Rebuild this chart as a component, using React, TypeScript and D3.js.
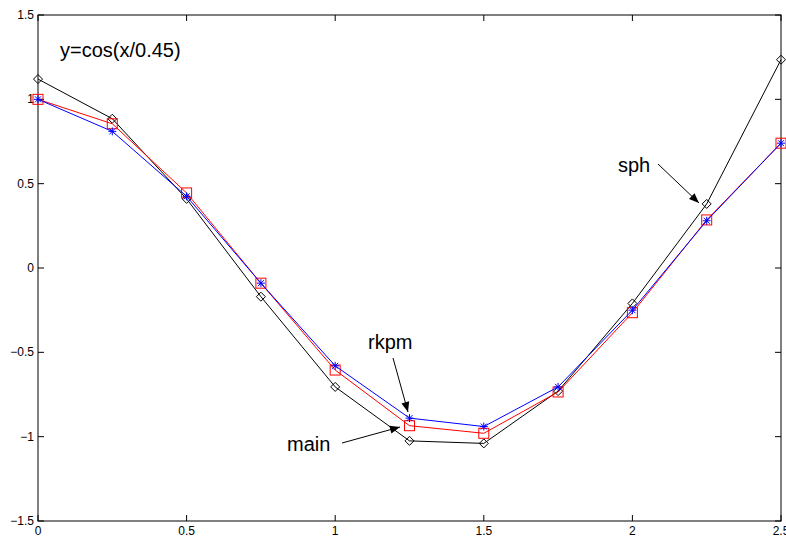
import React, { useEffect, useRef } from 'react';
import * as d3 from 'd3';

const xs = [0, 0.25, 0.5, 0.75, 1, 1.25, 1.5, 1.75, 2, 2.25, 2.5];
const sph = [1.12, 0.885, 0.41, -0.17, -0.705, -1.025, -1.04, -0.73, -0.21, 0.38, 1.235];
const rkpm = [1.0, 0.81, 0.425, -0.09, -0.58, -0.89, -0.94, -0.705, -0.25, 0.28, 0.74];
const main = [1.0, 0.855, 0.445, -0.09, -0.605, -0.935, -0.98, -0.735, -0.265, 0.285, 0.74];
const xTicks = [0, 0.5, 1, 1.5, 2, 2.5];
const yTicks = [-1.5, -1, -0.5, 0, 0.5, 1, 1.5];

const App = () => {
  const svgRef = useRef<SVGSVGElement>(null);

  useEffect(() => {
    const svg = d3.select(svgRef.current);
    svg.selectAll('*').remove();

    const w = 786, h = 541;
    const m = { left: 38, right: 5, top: 15, bottom: 20 };
    const x = d3.scaleLinear().domain([0, 2.5]).range([m.left, w - m.right]);
    const y = d3.scaleLinear().domain([-1.5, 1.5]).range([h - m.bottom, m.top]);
    const font = 'Liberation Sans, Arial, sans-serif';

    svg.append('rect').attr('width', w).attr('height', h).attr('fill', '#fff');

    // box
    svg.append('rect')
      .attr('x', x(0)).attr('y', y(1.5))
      .attr('width', x(2.5) - x(0)).attr('height', y(-1.5) - y(1.5))
      .attr('fill', 'none').attr('stroke', '#000').attr('stroke-width', 1);

    const tl = 6;
    // ticks point inward on all four sides
    xTicks.forEach(t => {
      svg.append('line').attr('x1', x(t)).attr('x2', x(t)).attr('y1', y(-1.5)).attr('y2', y(-1.5) - tl).attr('stroke', '#000');
      svg.append('line').attr('x1', x(t)).attr('x2', x(t)).attr('y1', y(1.5)).attr('y2', y(1.5) + tl).attr('stroke', '#000');
      svg.append('text').attr('x', x(t)).attr('y', y(-1.5) + 14)
        .attr('text-anchor', 'middle').attr('font-family', font).attr('font-size', 12)
        .text(d3.format('')(t));
    });
    yTicks.forEach(t => {
      svg.append('line').attr('x1', x(0)).attr('x2', x(0) + tl).attr('y1', y(t)).attr('y2', y(t)).attr('stroke', '#000');
      svg.append('line').attr('x1', x(2.5)).attr('x2', x(2.5) - tl).attr('y1', y(t)).attr('y2', y(t)).attr('stroke', '#000');
      svg.append('text').attr('x', x(0) - 4).attr('y', y(t) + 4)
        .attr('text-anchor', 'end').attr('font-family', font).attr('font-size', 12)
        .text(d3.format('')(t));
    });

    const line = d3.line<number>().x((d, i) => x(xs[i])).y(d => y(d));

    // sph - black diamonds
    svg.append('path').datum(sph).attr('d', line).attr('fill', 'none').attr('stroke', '#000').attr('stroke-width', 1);
    svg.selectAll('.dia').data(sph).join('path')
      .attr('d', (d, i) => {
        const cx = x(xs[i]), cy = y(d), r = 4.5;
        return `M${cx},${cy - r}L${cx + r},${cy}L${cx},${cy + r}L${cx - r},${cy}Z`;
      })
      .attr('fill', 'none').attr('stroke', '#000').attr('stroke-width', 1);

    // main - red squares
    svg.append('path').datum(main).attr('d', line).attr('fill', 'none').attr('stroke', '#ff0000').attr('stroke-width', 1);
    svg.selectAll('.sq').data(main).join('rect')
      .attr('x', (d, i) => x(xs[i]) - 5).attr('y', d => y(d) - 5)
      .attr('width', 10).attr('height', 10)
      .attr('fill', 'none').attr('stroke', '#ff0000').attr('stroke-width', 1);

    // rkpm - blue stars
    svg.append('path').datum(rkpm).attr('d', line).attr('fill', 'none').attr('stroke', '#0000ff').attr('stroke-width', 1);
    svg.selectAll('.star').data(rkpm).join('path')
      .attr('d', (d, i) => {
        const cx = x(xs[i]), cy = y(d), r = 4, k = 3;
        return `M${cx - r},${cy}L${cx + r},${cy}M${cx},${cy - r}L${cx},${cy + r}` +
          `M${cx - k},${cy - k}L${cx + k},${cy + k}M${cx - k},${cy + k}L${cx + k},${cy - k}`;
      })
      .attr('fill', 'none').attr('stroke', '#0000ff').attr('stroke-width', 1);

    // annotations
    svg.append('text').attr('x', 60).attr('y', 57).attr('font-family', font).attr('font-size', 20).text('y=cos(x/0.45)');

    const arrow = (x1: number, y1: number, x2: number, y2: number) => {
      svg.append('line').attr('x1', x1).attr('y1', y1).attr('x2', x2).attr('y2', y2).attr('stroke', '#000');
      const a = Math.atan2(y2 - y1, x2 - x1), L = 10, W = 4;
      const bx = x2 - L * Math.cos(a), by = y2 - L * Math.sin(a);
      const px = -Math.sin(a) * W, py = Math.cos(a) * W;
      svg.append('path').attr('d', `M${x2},${y2}L${bx + px},${by + py}L${bx - px},${by - py}Z`).attr('fill', '#000');
    };

    svg.append('text').attr('x', 618).attr('y', 172).attr('font-family', font).attr('font-size', 20).text('sph');
    arrow(658, 164, 699, 203);
    svg.append('text').attr('x', 368).attr('y', 349).attr('font-family', font).attr('font-size', 20).text('rkpm');
    arrow(393, 358, 408, 412);
    svg.append('text').attr('x', 287).attr('y', 451).attr('font-family', font).attr('font-size', 20).text('main');
    arrow(342, 443, 400, 427);
  }, []);

  return (
    <svg ref={svgRef} width={786} height={541} style={{ position: 'absolute', left: 0, top: 0 }} />
  );
};

export default App;
